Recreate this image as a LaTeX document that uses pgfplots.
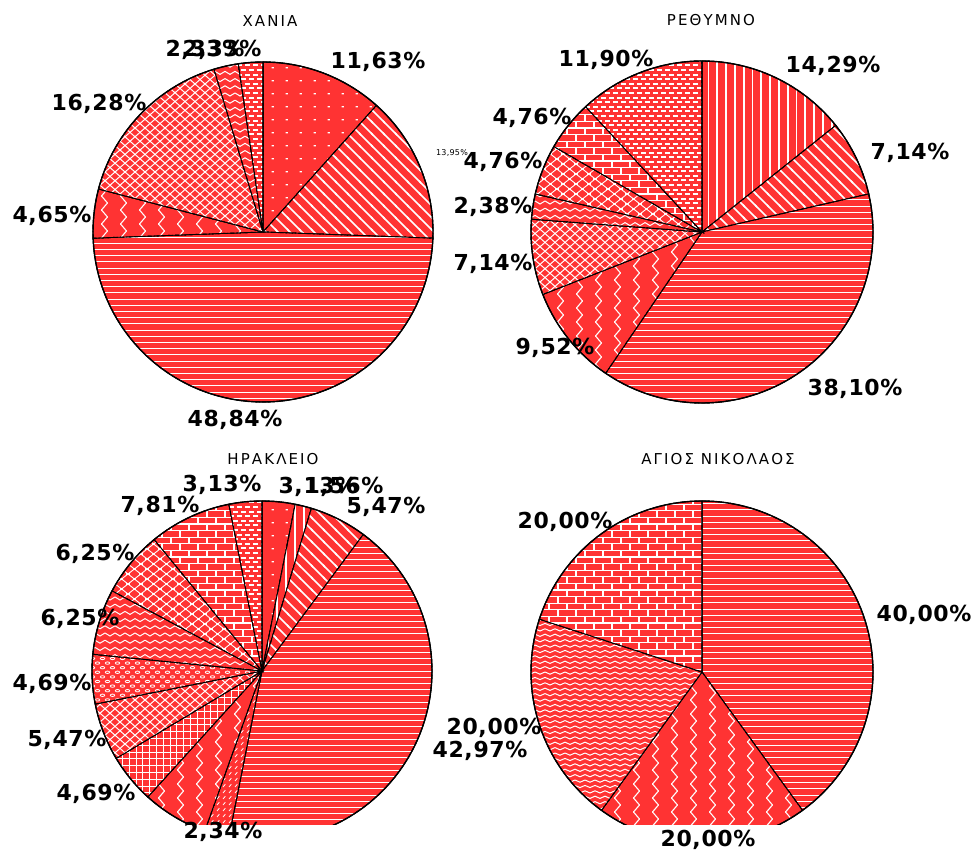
\documentclass[border=0pt]{standalone}
\usepackage{fontspec}
\setmainfont{DejaVu Sans}
\newfontfamily\labfont[LetterSpace=3]{DejaVu Sans}
\newfontfamily\titfont[LetterSpace=14]{DejaVu Sans}
\usepackage{pgfplots}
\pgfplotsset{compat=1.18}
\usepackage{pgfplotstable}
\usetikzlibrary{patterns,patterns.meta}
\definecolor{piered}{RGB}{255,51,51}

% ---------- patterns (white on red) ----------
\tikzdeclarepattern{name=phl, type=uncolored,
  bounding box={(-0.2pt,-0.2pt) and (3.3pt,3.3pt)}, tile size={(3.1pt,3.1pt)},
  code={\tikzset{x=1pt,y=1pt,solid}\draw[solid,line width=0.55pt] (-0.2,1.55) -- (3.3,1.55);}}
\tikzdeclarepattern{name=pvl, type=uncolored,
  bounding box={(-0.2pt,-0.2pt) and (4.6pt,4.6pt)}, tile size={(4.4pt,4.4pt)},
  code={\tikzset{x=1pt,y=1pt,solid}\draw[solid,line width=0.9pt] (2.2,-0.2) -- (2.2,4.6);}}
\tikzdeclarepattern{name=pnwl, type=uncolored,
  bounding box={(-0.6pt,-0.6pt) and (6.6pt,6.6pt)}, tile size={(6pt,6pt)},
  code={\tikzset{x=1pt,y=1pt,solid}\draw[solid,line width=0.8pt] (-0.6,6.6) -- (6.6,-0.6);}}
\tikzdeclarepattern{name=pdots, type=uncolored,
  bounding box={(0pt,0pt) and (7pt,6.5pt)}, tile size={(7pt,6.5pt)},
  code={\tikzset{x=1pt,y=1pt,solid}\fill (3,3) rectangle (4.2,3.7);}}
\tikzdeclarepattern{name=pzig, type=uncolored,
  bounding box={(-0.5pt,-0.5pt) and (10pt,7.5pt)}, tile size={(9.5pt,7pt)},
  code={\tikzset{x=1pt,y=1pt,solid}\draw[solid,line width=0.55pt,line cap=round,line join=round] (3.25,0) -- (6.25,3.5) -- (3.25,7);}}
\tikzdeclarepattern{name=pxh, type=uncolored,
  bounding box={(-0.3pt,-0.3pt) and (5.3pt,4.7pt)}, tile size={(5pt,4.4pt)},
  code={\tikzset{x=1pt,y=1pt,solid}\draw[solid,line width=0.5pt,line cap=round] (0,0) -- (5,4.4) (0,4.4) -- (5,0);}}
\tikzdeclarepattern{name=pwav, type=uncolored,
  bounding box={(-0.3pt,-0.3pt) and (5.3pt,3pt)}, tile size={(5pt,2.7pt)},
  code={\tikzset{x=1pt,y=1pt,solid}\draw[solid,line width=0.5pt,line cap=round,line join=round] (0,0.8) -- (2.5,1.9) -- (5,0.8);}}
\tikzdeclarepattern{name=pwavb, type=uncolored,
  bounding box={(-0.3pt,-0.3pt) and (5.3pt,3.9pt)}, tile size={(5pt,3.6pt)},
  code={\tikzset{x=1pt,y=1pt,solid}\draw[solid,line width=0.5pt,line cap=round,line join=round] (0,1) -- (2.5,2.5) -- (5,1);}}
\tikzdeclarepattern{name=poct, type=uncolored,
  bounding box={(-1.2pt,-1pt) and (7.6pt,6pt)}, tile size={(6.4pt,5pt)},
  code={\tikzset{x=1pt,y=1pt,solid}\draw[solid,line width=0.45pt] (0,0) -- (6.4,5) (0,5) -- (6.4,0);
    \fill (2.3,1.9) rectangle (4.1,3.1); \fill (-0.9,-0.6) rectangle (0.9,0.6);}}
\tikzdeclarepattern{name=pbrick, type=uncolored,
  bounding box={(-0.4pt,-0.4pt) and (9.4pt,7pt)}, tile size={(9pt,6.6pt)},
  code={\tikzset{x=1pt,y=1pt,solid}\draw[solid,line width=0.6pt] (-0.4,0) -- (9.4,0) (-0.4,3.3) -- (9.4,3.3) (0,0) -- (0,3.3) (4.5,3.3) -- (4.5,6.6);}}
\tikzdeclarepattern{name=psmb, type=uncolored,
  bounding box={(-0.2pt,-0.2pt) and (6pt,4.8pt)}, tile size={(4pt,4.6pt)},
  code={\tikzset{x=1pt,y=1pt,solid}\fill (0.4,0.5) rectangle (2.8,1.5); \fill (2.4,2.8) rectangle (4.8,3.8);}}
\tikzdeclarepattern{name=pgrid, type=uncolored,
  bounding box={(-0.3pt,-0.3pt) and (3.7pt,3.7pt)}, tile size={(3.4pt,3.4pt)},
  code={\tikzset{x=1pt,y=1pt,solid}\draw[solid,line width=0.45pt] (-0.3,0) -- (3.7,0) (0,-0.3) -- (0,3.7);}}
\tikzdeclarepattern{name=pell, type=uncolored,
  bounding box={(-0.3pt,-0.3pt) and (6.5pt,5pt)}, tile size={(5pt,4.6pt)},
  code={\tikzset{x=1pt,y=1pt,solid}\draw[solid,line width=0.4pt] (1.25,1.15) ellipse [x radius=1.1, y radius=0.6] (3.75,3.45) ellipse [x radius=1.1, y radius=0.6];}}
\tikzdeclarepattern{name=pnedash, type=uncolored,
  bounding box={(0pt,0pt) and (3pt,3pt)}, tile size={(3pt,3pt)},
  code={\tikzset{x=1pt,y=1pt,solid}\draw[solid,line width=0.45pt] (0.6,0.6) -- (1.9,2.2);}}

% ---------- data: shares in percent, clockwise from 12 o'clock ----------
\pgfplotstableread{
share pat
11.63 pdots
13.95 pnwl
48.84 phl
4.65 pzig
16.28 pxh
2.33 pwavb
2.33 psmb
}\chania
\pgfplotstableread{
share pat
14.29 pvl
7.14 pnwl
38.10 phl
9.52 pzig
7.14 pxh
2.38 pwavb
4.76 poct
4.76 pbrick
11.90 psmb
}\rethymno
\pgfplotstableread{
share pat
3.13 pdots
1.56 pvl
5.47 pnwl
42.97 phl
2.34 pnedash
6.25 pzig
4.69 pgrid
5.47 pxh
4.69 pell
6.25 pwavb
6.25 poct
7.81 pbrick
3.13 psmb
}\heraklion
\pgfplotstableread{
share pat
40.00 phl
20.00 pzig
20.00 pwav
20.00 pbrick
}\agnik

% #1 table, #2 cx, #3 cy, #4 r   (pixel coordinates, y downwards)
\newcommand\drawpie[4]{%
  \gdef\cum{0}\gdef\allslices{}%
  \pgfplotstableforeachcolumnelement{share}\of#1\as\val{%
    \pgfplotstablegetelem{\pgfplotstablerow}{pat}\of#1%
    \let\pat\pgfplotsretval
    \pgfmathsetmacro\sa{\cum*3.6}%
    \pgfmathsetmacro\newcum{\cum+\val}%
    \pgfmathsetmacro\sb{\newcum*3.6}%
    \xdef\cum{\newcum}%
    \xdef\allslices{\unexpanded\expandafter{\allslices}%
      \noexpand\addplot[draw=black, line width=0.45pt, dash pattern=on 2pt off 1pt on 0.6pt off 1pt,
        fill=piered, postaction={solid, pattern=\pat, pattern color=white},
        domain=\sa:\sb, samples=60]
        ({#2+#4*sin(x)},{#3-#4*cos(x)}) -- (axis cs:#2,#3) -- cycle;}%
  }%
  \allslices
  \addplot[draw=black, line width=0.7pt, domain=0:360, samples=180]
    ({#2+#4*sin(x)},{#3-#4*cos(x)}) -- (axis cs:#2,#3);
}

\tikzset{lab/.style={font=\labfont\bfseries\fontsize{11}{12}\selectfont, inner sep=0pt, text=black},
         tit/.style={font=\titfont\fontsize{7.5}{8}\selectfont, inner sep=0pt, text=black}}

\begin{document}
\begin{tikzpicture}
\begin{axis}[
  scale only axis, width=487pt, height=412pt,
  xmin=0, xmax=974, ymin=0, ymax=824, y dir=reverse,
  hide axis, clip mode=individual, no markers]

\drawpie{\chania}{263}{232}{170}
\drawpie{\rethymno}{702}{232}{171}
\drawpie{\heraklion}{262}{671}{170}
\drawpie{\agnik}{702}{672}{171}

% titles
\node[tit] at (axis cs:270,21) {ΧΑΝΙΑ};
\node[tit] at (axis cs:711,20) {ΡΕΘΥΜΝΟ};
\node[tit] at (axis cs:273,459) {ΗΡΑΚΛΕΙΟ};
\node[tit] at (axis cs:718,459) {ΑΓΙΟΣ ΝΙΚΟΛΑΟΣ};

% Chania labels
\node[lab] at (axis cs:378,62) {11,63\%};
\node[font=\labfont\fontsize{4}{5}\selectfont, inner sep=0pt] at (axis cs:452,153) {13,95\%};
\node[lab] at (axis cs:235,420) {48,84\%};
\node[lab] at (axis cs:52,216) {4,65\%};
\node[lab] at (axis cs:99,104) {16,28\%};
\node[lab] at (axis cs:205,50) {2,33\%};
\node[lab] at (axis cs:222,50) {2,33\%};

% Rethymno labels
\node[lab] at (axis cs:833,66) {14,29\%};
\node[lab] at (axis cs:910,153) {7,14\%};
\node[lab] at (axis cs:855,389) {38,10\%};
\node[lab] at (axis cs:555,348) {9,52\%};
\node[lab] at (axis cs:606,60) {11,90\%};
\node[lab] at (axis cs:532,118) {4,76\%};
\node[lab] at (axis cs:503,162) {4,76\%};
\node[lab] at (axis cs:493,207) {2,38\%};
\node[lab] at (axis cs:493,264) {7,14\%};

% Heraklion labels
\node[lab] at (axis cs:318,487) {3,13\%};
\node[lab] at (axis cs:344,487) {1,56\%};
\node[lab] at (axis cs:386,507) {5,47\%};
\node[lab] at (axis cs:480,751) {42,97\%};
\node[lab] at (axis cs:223,832) {2,34\%};
\node[lab] at (axis cs:96,794) {4,69\%};
\node[lab] at (axis cs:67,740) {5,47\%};
\node[lab] at (axis cs:52,684) {4,69\%};
\node[lab] at (axis cs:80,619) {6,25\%};
\node[lab] at (axis cs:95,554) {6,25\%};
\node[lab] at (axis cs:160,506) {7,81\%};
\node[lab] at (axis cs:222,485) {3,13\%};

% Agios Nikolaos labels
\node[lab] at (axis cs:924,615) {40,00\%};
\node[lab] at (axis cs:708,840) {20,00\%};
\node[lab] at (axis cs:494,728) {20,00\%};
\node[lab] at (axis cs:565,522) {20,00\%};
\end{axis}
\pgfresetboundingbox
\path (current axis.north east) rectangle ([yshift=-15pt]current axis.south west);
\end{tikzpicture}
\end{document}
